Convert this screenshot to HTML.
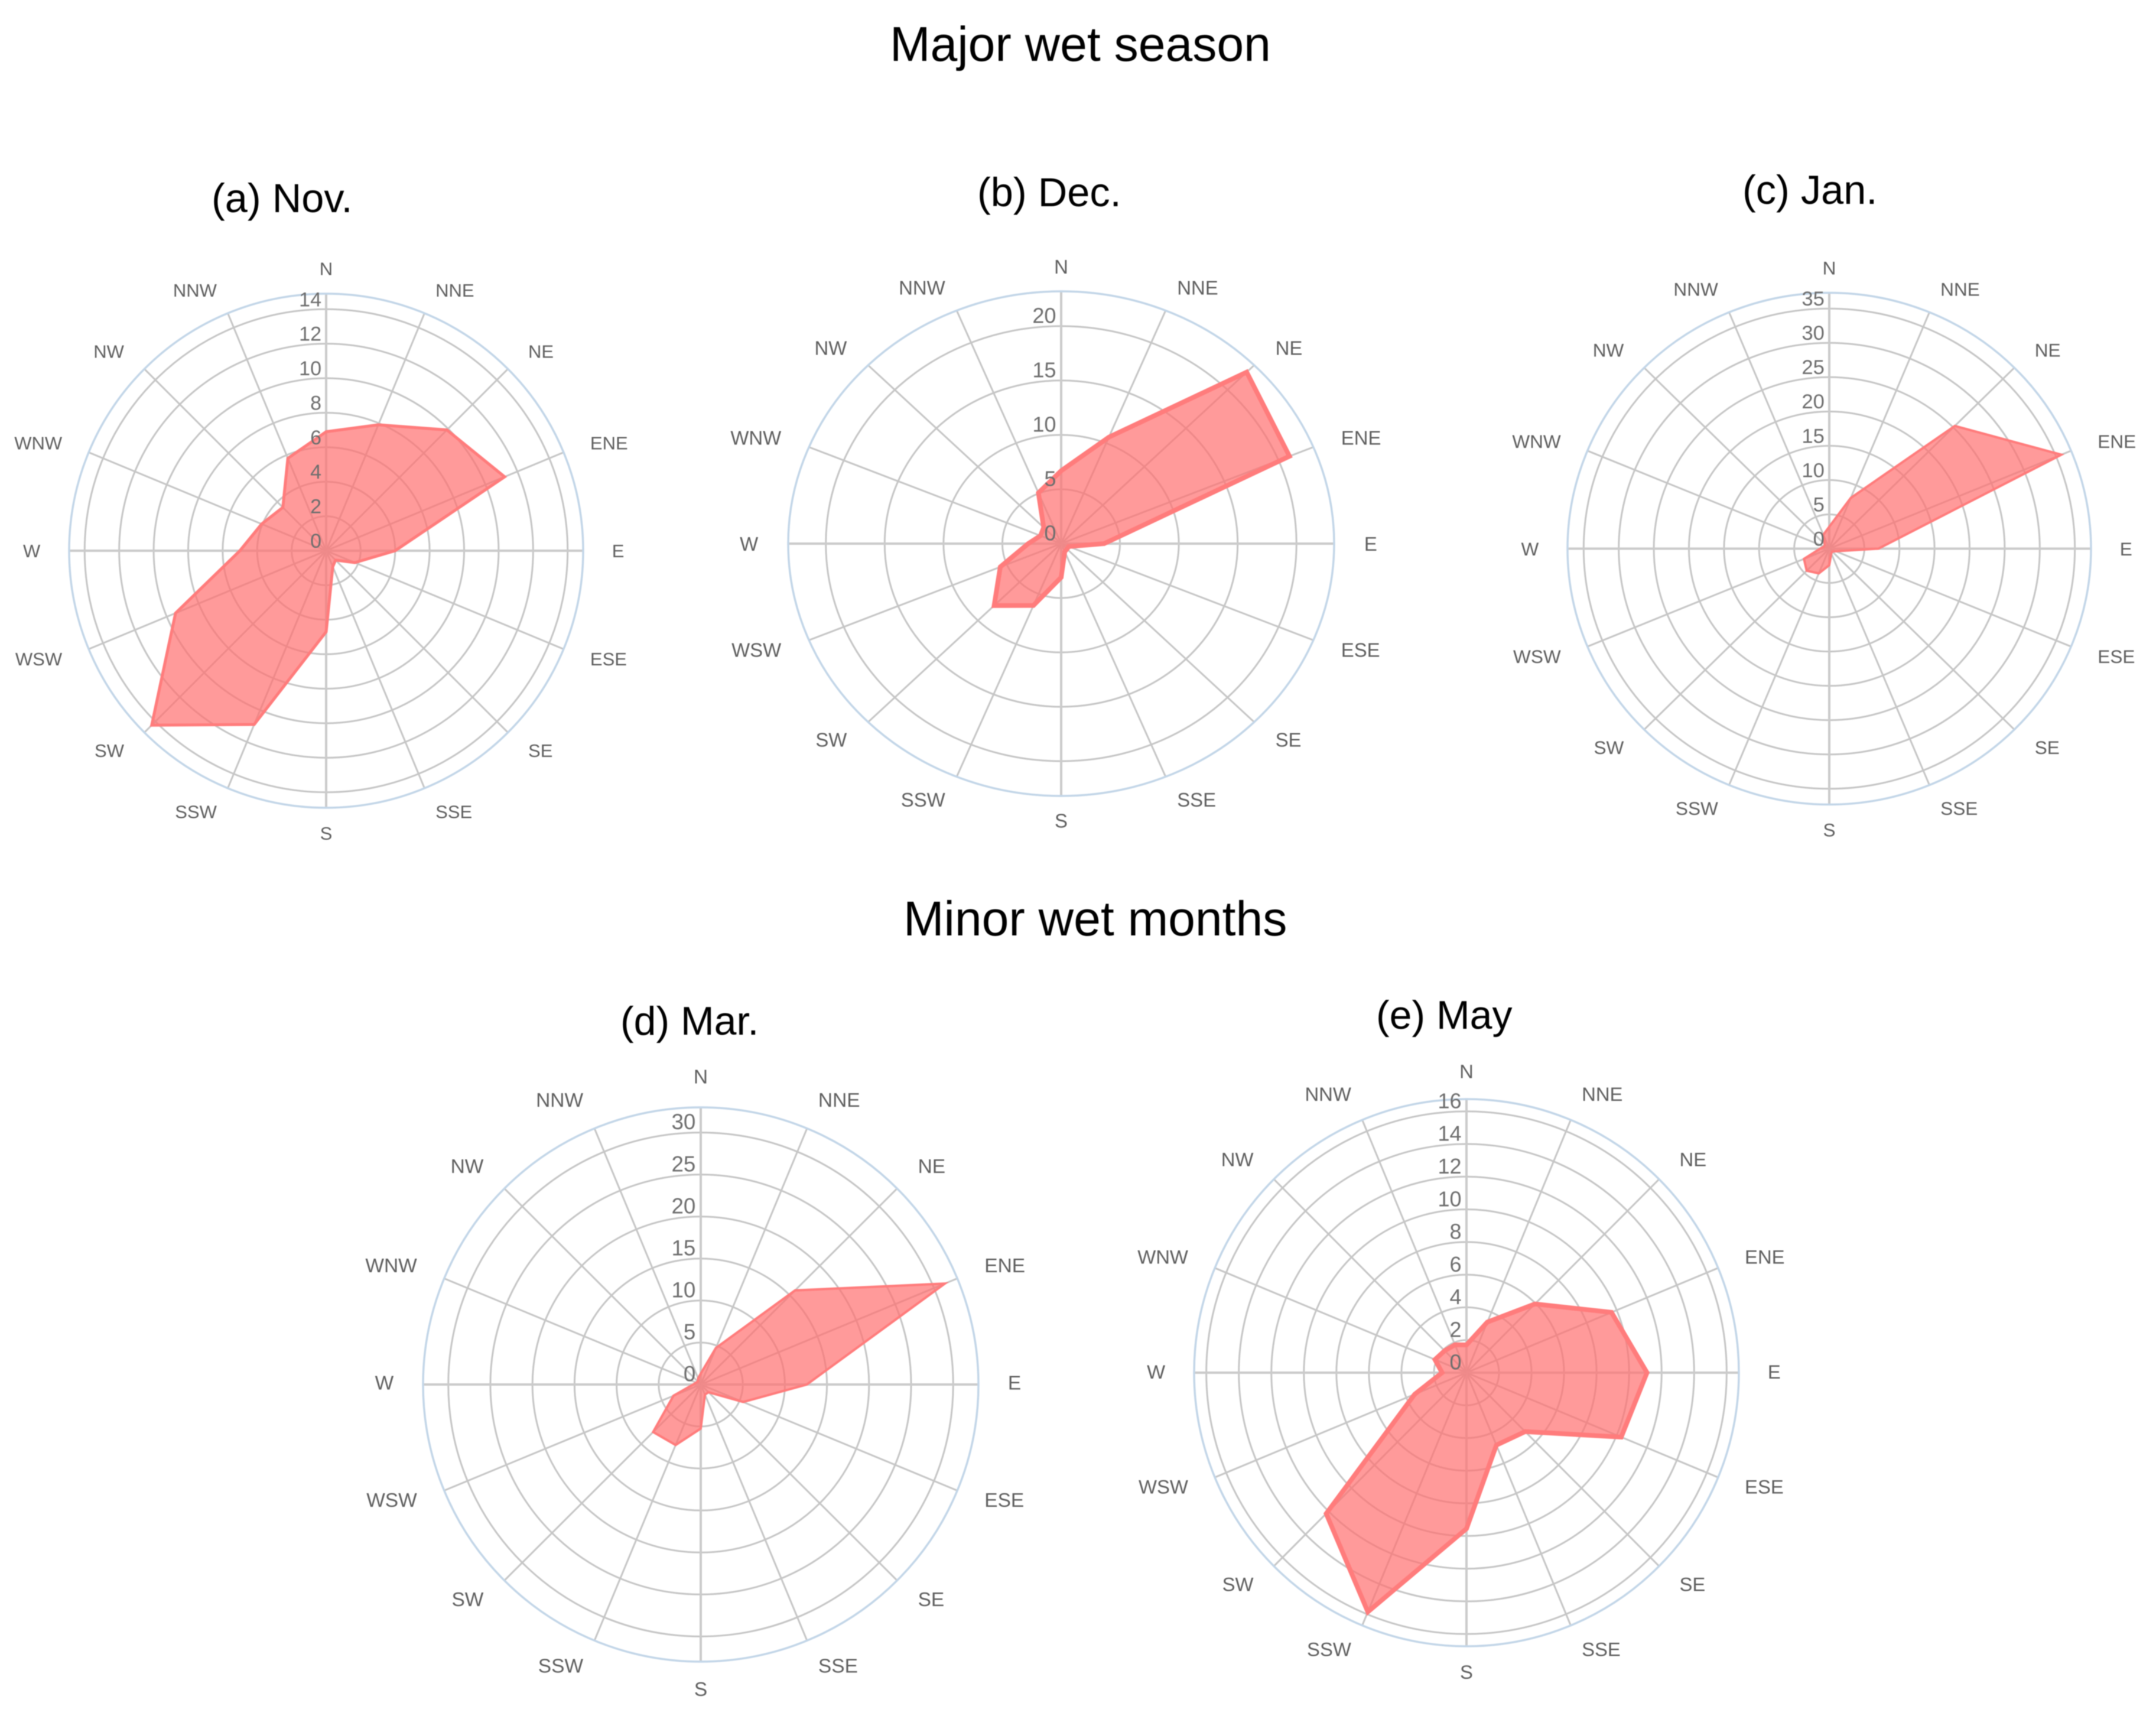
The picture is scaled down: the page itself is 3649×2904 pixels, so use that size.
<!DOCTYPE html>
<html lang="en">
<head>
<meta charset="utf-8">
<title>Wind roses: major wet season and minor wet months</title>
<style>
html,body{margin:0;padding:0;background:#fff;}
svg{display:block;filter:blur(0.7px);}
text{font-family:"Liberation Sans",sans-serif;}
</style>
</head>
<body>
<svg id="figure" xmlns="http://www.w3.org/2000/svg" width="3649" height="2904" viewBox="0 0 3649 2904">
  <rect width="3649" height="2904" fill="#fff"/>
  <text x="1506" y="103" font-size="82.3" fill="#000">Major wet season</text>
  <text x="1529" y="1583" font-size="82.3" fill="#000">Minor wet months</text>
  <text x="358" y="359" font-size="68.5" fill="#000">(a) Nov.</text>
  <text x="1654" y="349" font-size="68.5" fill="#000">(b) Dec.</text>
  <text x="2949" y="345" font-size="68.5" fill="#000">(c) Jan.</text>
  <text x="1050" y="1751" font-size="68" fill="#000">(d) Mar.</text>
  <text x="2329" y="1741" font-size="68" fill="#000">(e) May</text>
</svg>
<script>
const directions = ["N","NNE","NE","ENE","E","ESE","SE","SSE","S","SSW","SW","WSW","W","WNW","NW","NNW"];

const novValues = [6.9,7.9,9.9,11.2,4.0,1.8,0.77,1.0,4.7,10.9,14.3,9.45,5.0,4.05,3.55,5.8];
const decValues = [6.7,10.6,22.3,21.0,3.65,0.7,0.7,0.8,3.1,6.15,8.05,5.6,2.8,1.9,2.1,5.05];
const janValues = [3.2,8.0,25.3,35.8,7.0,1.0,0.6,0.75,2.4,3.9,4.55,3.9,1.3,0.8,0.9,2.2];
const marValues = [1.3,4.7,15.85,31.4,12.6,5.45,1.3,1.3,5.25,7.8,8.0,3.5,0.9,0.6,0.5,0.8];
const mayValues = [1.7,3.35,5.95,9.65,11.1,10.3,5.1,4.8,9.55,15.85,12.2,3.45,1.5,2.1,1.9,1.85];

const novTicks = [0,2,4,6,8,10,12,14];
const decTicks = [0,5,10,15,20];
const janTicks = [0,5,10,15,20,25,30,35];
const marTicks = [0,5,10,15,20,25,30];
const mayTicks = [0,2,4,6,8,10,12,14,16];

const NS = "http://www.w3.org/2000/svg";
const figure = document.getElementById("figure");

function make(tag, attrs, parent) {
  const el = document.createElementNS(NS, tag);
  for (const k in attrs) el.setAttribute(k, attrs[k]);
  parent.appendChild(el);
  return el;
}

function drawRose(id, values, ticks, axisMax, cx, cy, rx, ry, strokeW, gapX, gapY, shiftY) {
  const xAt = (dirIndex, v) => cx + (v / axisMax) * rx * Math.sin(dirIndex * Math.PI / 8);
  const yAt = (dirIndex, v) => cy - (v / axisMax) * ry * Math.cos(dirIndex * Math.PI / 8);
  const scale = rx / 435;

  const group = make("g", {}, figure);
  
  

  ticks.forEach(t => {
    if (t === 0) return;
    const ring = make("ellipse", {cx: cx, cy: cy, rx: (t / axisMax) * rx, ry: (t / axisMax) * ry, fill: "none", stroke: "#c6c6c6", "stroke-width": 3}, group);
    
    
  });

  directions.forEach((d, i) => {
    const cardinal = i % 4 === 0;
    const spoke = make("line", {x1: cx, y1: cy, x2: xAt(i, axisMax), y2: yAt(i, axisMax), stroke: cardinal ? "#cbcbcb" : "#c6c6c6", "stroke-width": cardinal ? 4 : 3}, group);
    
    
  });

  const outer = make("ellipse", {cx: cx, cy: cy, rx: rx, ry: ry, fill: "none", stroke: "#c3d6e8", "stroke-width": 3.5}, group);
  
  

  const pts = values.map((v, i) => xAt(i, v).toFixed(1) + "," + yAt(i, v).toFixed(1)).join(" ");
  const area = make("polygon", {points: pts, fill: "#ff6f6f", "fill-opacity": 0.7, stroke: "#ff7c7c", "stroke-width": strokeW, "stroke-linejoin": "miter"}, group);
  
  

  ticks.forEach(t => {
    const label = make("text", {x: cx - 8 * scale, y: yAt(0, t) - 5 * scale, "text-anchor": "end", "font-size": 34 * scale, fill: "#6e6e6e"}, group);
    label.textContent = String(t);
    
    
  });

  const outX = axisMax * (1 + gapX);
  const outY = axisMax * (1 + gapY);
  directions.forEach((d, i) => {
    const sin = Math.sin(i * Math.PI / 8);
    const anchor = Math.abs(sin) < 0.01 ? "middle" : (sin > 0 ? "start" : "end");
    const fs = 31 * scale;
    const label = make("text", {x: xAt(i, outX), y: yAt(i, outY) + fs * 0.36 + shiftY, "text-anchor": anchor, "font-size": fs, fill: "#5f5f5f"}, group);
    label.textContent = d;
    
    
  });
}

drawRose("nov", novValues, novTicks, 14.9, 552, 932, 435, 435, 5, 0.112, 0.098, 0);
drawRose("dec", decValues, decTicks, 23.2, 1796, 920, 462, 427, 8, 0.110, 0.098, 0);
drawRose("jan", janValues, janTicks, 37.3, 3096, 928.5, 443, 433, 4, 0.110, 0.098, 0);
drawRose("mar", marValues, marTicks, 33.0, 1186, 2343, 470, 469, 4, 0.106, 0.105, -3.5);
drawRose("may", mayValues, mayTicks, 16.75, 2482, 2323, 461, 463, 8, 0.106, 0.098, -2);
</script>
</body>
</html>
